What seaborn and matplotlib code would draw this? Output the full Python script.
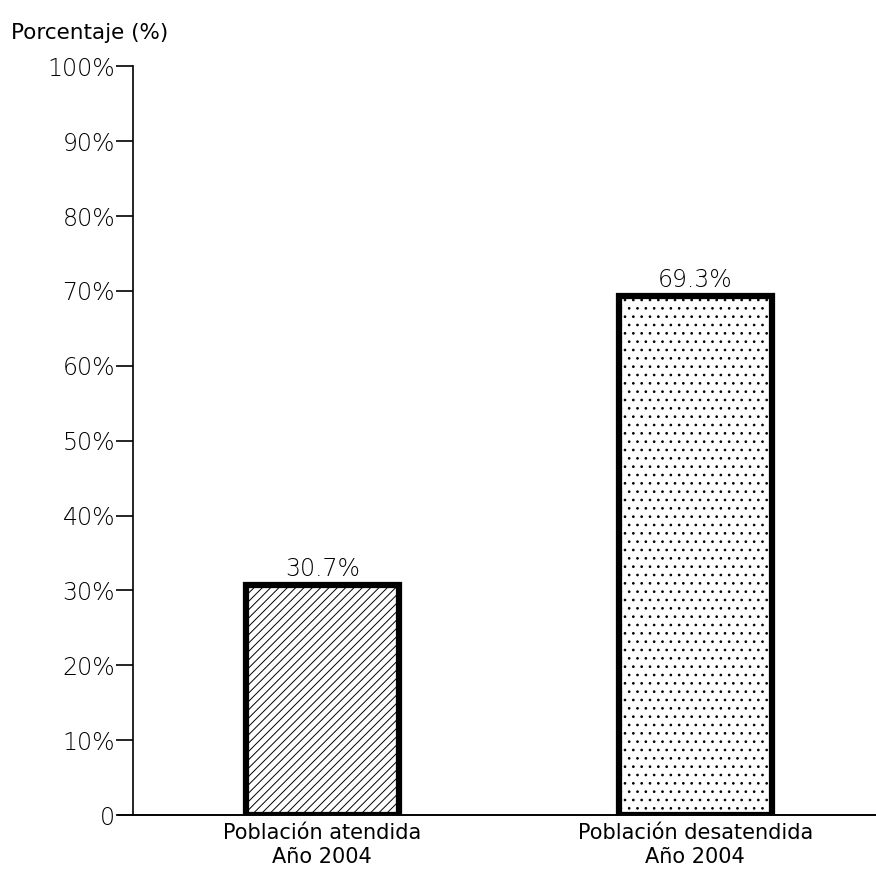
import numpy as np
import pandas as pd
import matplotlib
matplotlib.use("Agg")
import matplotlib.pyplot as plt
import seaborn as sns

# Data
categories = ["Población atendida\nAño 2004", "Población desatendida\nAño 2004"]
values = [30.7, 69.3]
value_labels = ["30.7%", "69.3%"]
ytick_values = [0, 10, 20, 30, 40, 50, 60, 70, 80, 90, 100]
ytick_labels = ["0", "10%", "20%", "30%", "40%", "50%", "60%", "70%", "80%", "90%", "100%"]
hatches = ["////", ".."]

sns.set_style("white")
plt.rcParams["font.family"] = ["DejaVu Sans"]
plt.rcParams["hatch.linewidth"] = 0.7
plt.rcParams["text.color"] = "black"
plt.rcParams["xtick.color"] = "black"
plt.rcParams["ytick.color"] = "black"
plt.rcParams["xtick.labelcolor"] = "black"
plt.rcParams["ytick.labelcolor"] = "black"

df = pd.DataFrame({"categoria": categories, "porcentaje": values})

fig = plt.figure(figsize=(8.76, 8.85), dpi=100)
ax = fig.add_axes([0.152, 0.079, 0.848, 0.846])

sns.barplot(data=df, x="categoria", y="porcentaje", color="white",
            width=0.41, edgecolor="black", linewidth=4.5, ax=ax)

for patch, h in zip(ax.patches, hatches):
    patch.set_hatch(h)
    patch.set_facecolor("white")
    patch.set_edgecolor("black")

ax.bar_label(ax.containers[0], labels=value_labels, padding=3,
             fontsize=17, fontweight="light", color="black")

ax.set_xlim(-0.507, 1.485)
ax.set_ylim(0, 100)
ax.set_yticks(ytick_values)
ax.set_yticklabels(ytick_labels, fontsize=17, fontweight="light")
ax.tick_params(axis="y", direction="out", length=12, width=1.2, pad=1, left=True)
ax.tick_params(axis="x", length=0, labelsize=15, pad=6)
ax.set_xlabel("")
ax.set_ylabel("")

for side in ["top", "right"]:
    ax.spines[side].set_visible(False)
ax.spines["left"].set_linewidth(1.2)
ax.spines["bottom"].set_linewidth(1.2)
ax.spines["left"].set_color("black")
ax.spines["bottom"].set_color("black")
# bottom line runs a bit past the left spine
ax.axhline(0, xmin=-0.02, xmax=1, color="black", lw=1.2, clip_on=False)

fig.text(0.012, 0.963, "Porcentaje (%)", fontsize=15.5, va="center", ha="left",
         color="black")

fig.savefig("out.png", dpi=100)
